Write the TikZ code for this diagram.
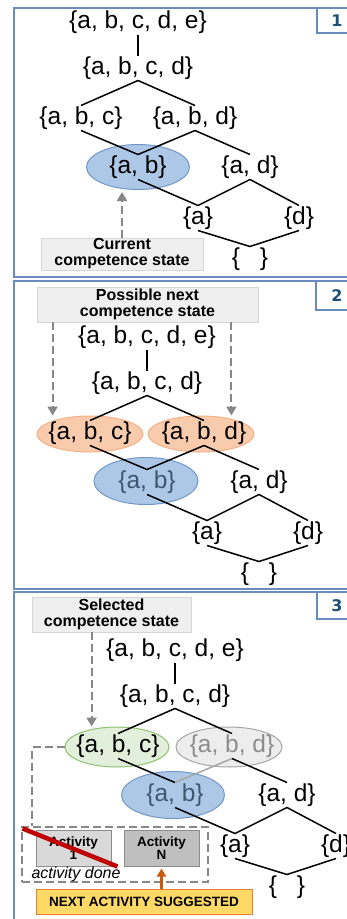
\documentclass[tikz,border=0pt]{standalone}
\usepackage{fontspec}
\setmainfont{Liberation Sans}
\newfontfamily\numfont{DejaVu Sans}
\usetikzlibrary{arrows.meta,shapes.geometric,calc}
\definecolor{frameblue}{HTML}{6A8BBE}
\definecolor{numblue}{HTML}{1F4E79}
\definecolor{ellblue}{HTML}{ADC8E6}
\definecolor{ellblueb}{HTML}{6F98C8}
\definecolor{abtxt}{HTML}{3F5670}
\definecolor{ellor}{HTML}{F8CBAD}
\definecolor{ellorb}{HTML}{F4B183}
\definecolor{ellgr}{HTML}{E2EFDA}
\definecolor{ellgrb}{HTML}{8DC26F}
\definecolor{ellgy}{HTML}{EDEDED}
\definecolor{ellgyb}{HTML}{A6A6A6}
\definecolor{gytxt}{HTML}{8C8C8C}
\definecolor{dashgy}{HTML}{878787}
\definecolor{labfill}{HTML}{EFEFEF}
\definecolor{labdraw}{HTML}{D6D6D6}
\definecolor{actonefill}{HTML}{D9D9D9}
\definecolor{actnfill}{HTML}{BFBFBF}
\definecolor{actdraw}{HTML}{8C8C8C}
\definecolor{strikered}{HTML}{C00000}
\definecolor{nextfill}{HTML}{FFD966}
\definecolor{nextdraw}{HTML}{ED7D31}
\definecolor{orarrow}{HTML}{C55A11}
\tikzset{
  setnode/.style={inner sep=0pt, outer sep=1.5pt, text height=17pt, text depth=5pt,
    font=\fontsize{24.5}{28}\selectfont},
  latline/.style={line width=1.5pt, draw=black},
  ell/.style={ellipse, inner sep=0pt, line width=1pt},
  blueell/.style={ell, fill=ellblue, draw=ellblueb, minimum width=104pt, minimum height=46pt},
  frame/.style={draw=frameblue, line width=1.3pt},
  numtxt/.style={text=numblue, font=\numfont\bfseries\fontsize{16}{16}\selectfont, inner sep=0pt},
  labbox/.style={draw=labdraw, fill=labfill, line width=0.8pt,
    font=\fontsize{16}{16}\selectfont\bfseries, align=center, inner sep=0pt},
  dasharrow/.style={draw=dashgy, line width=2pt, dash pattern=on 8pt off 4pt,
    -{Triangle[width=10pt,length=9pt,fill=dashgy]}},
  dashline/.style={draw=dashgy, line width=1.6pt, dash pattern=on 8pt off 4pt},
  actbox/.style={draw=actdraw, line width=1pt, minimum width=75pt, minimum height=36pt,
    inner sep=0pt, align=center, font=\fontsize{13.5}{13}\selectfont\bfseries},
  abstyle/.style={}, abdstyle/.style={}, abdab/.style={},
}
\newcommand\mylattice{%
  \node[setnode] (e) at (138,22) {\{a, b, c, d, e\}};
  \node[setnode] (d) at (138,68) {\{a, b, c, d\}};
  \node[setnode] (abc) at (81,118) {\{a, b, c\}};
  \node[setnode,abdstyle] (abd) at (195,118) {\{a, b, d\}};
  \node[setnode,abstyle] (ab) at (138,167) {\{a, b\}};
  \node[setnode] (ad) at (250,167) {\{a, d\}};
  \node[setnode] (a) at (198,218) {\{a\}};
  \node[setnode] (dd) at (299,218) {\{d\}};
  \node[setnode] (emp) at (250,259) {\{\hspace{20pt}\}};
  \draw[latline] (e.south) -- (d.north);
  \draw[latline] (abc.north) -- (d.south) -- (abd.north);
  \draw[latline] (abc.south) -- (ab.north);
  \draw[latline,abdab] (ab.north) -- (abd.south);
  \draw[latline] (abd.south) -- (ad.north);
  \draw[latline] (ab.south) -- (a.north) -- (ad.south) -- (dd.north);
  \draw[latline] (a.south) -- (emp.north) -- (dd.south);
}
\begin{document}
\begin{tikzpicture}[x=1pt,y=-1pt]
\useasboundingbox (0,0) rectangle (347,919);
\clip (0,0) rectangle (347,919);
\fill[white] (0,0) rectangle (347,919);

% ---------- frames ----------
\draw[frame] (14,8) rectangle (365,277);
\draw[frame] (317,8) rectangle (365,33);
\node[numtxt] (n1) at (337,21) {1};
\draw[frame] (14,281) rectangle (365,589);
\draw[frame] (316,281) rectangle (365,310);
\node[numtxt] (n2) at (337,296) {2};
\draw[frame] (14,592) rectangle (365,935);
\draw[frame] (317,592) rectangle (365,619);
\node[numtxt] (n3) at (337,606) {3};

% ---------- panel 1 ----------
\begin{scope}[name prefix=p1-]
  \node[blueell, minimum width=103pt, minimum height=45pt] (abE) at (138,167) {};
  \mylattice
\end{scope}
\node[labbox, minimum width=162pt, minimum height=32pt] (curbox) at (122,254)
  {Current\\competence state};
\draw[dasharrow, shorten >=2pt] (curbox.north) -- (curbox.north |- p1-abE.south);

% ---------- panel 2 ----------
\begin{scope}[shift={(9,315)}, name prefix=p2-, abstyle/.style={text=abtxt}]
  \node[ell, fill=ellor, draw=ellorb, minimum width=106pt, minimum height=36pt] (abcE) at (81,119) {};
  \node[ell, fill=ellor, draw=ellorb, minimum width=106pt, minimum height=36pt] (abdE) at (192,119) {};
  \node[blueell, minimum width=104pt, minimum height=47pt] (abE) at (137,166) {};
  \mylattice
\end{scope}
\node[labbox, minimum width=221pt, minimum height=35pt] (nextbox) at (147.5,304.5)
  {Possible next\\competence state};
\coordinate (arL) at ($(nextbox.south west)+(16,0)$);
\coordinate (arR) at ($(nextbox.south east)+(-27,0)$);
\draw[dasharrow] (arL) -- (arL |- p2-abcE.north);
\draw[dasharrow] (arR) -- (arR |- p2-abdE.north);

% ---------- panel 3 ----------
\begin{scope}[shift={(37,628)}, name prefix=p3-, abstyle/.style={text=abtxt},
  abdstyle/.style={text=gytxt}, abdab/.style={draw=ellgyb}]
  \node[ell, fill=ellgr, draw=ellgrb, minimum width=104pt, minimum height=40pt] (abcE) at (80,119) {};
  \node[ell, fill=ellgy, draw=ellgyb, minimum width=106pt, minimum height=40pt] (abdE) at (192,119) {};
  \node[blueell, minimum width=103pt, minimum height=47pt] (abE) at (136,167) {};
  \mylattice
\end{scope}
\node[labbox, minimum width=159pt, minimum height=35pt] (selbox) at (111.5,614.5)
  {Selected\\competence state};
\coordinate (arS) at ($(selbox.south west)+(60,0)$);
\draw[dasharrow] (arS) -- (arS |- p3-abcE.north);

\node[draw=dashgy, line width=1.6pt, dash pattern=on 8pt off 4pt,
  minimum width=186pt, minimum height=55pt, inner sep=0pt] (actgrp) at (115,854.5) {};
\coordinate (bend3) at (32,747);
\draw[dashline] (p3-abcE.west) -- (bend3) -- (bend3 |- actgrp.north);

\node[actbox, fill=actonefill] (act1) at (73.5,848) {Activity\\1};
\node[actbox, fill=actnfill] (actN) at (161.5,848) {Activity\\N};
\draw[strikered, line width=4.5pt] ($(act1.north west)+(-13,-1)$) -- ($(act1.south east)+(6,0)$);
\node[font=\fontsize{16}{16}\selectfont\itshape, inner sep=0pt] (done) at (76,874) {activity done};

\node[draw=nextdraw, fill=nextfill, line width=1pt, minimum width=216pt, minimum height=25pt,
  inner sep=0pt, font=\fontsize{13.5}{14}\selectfont\bfseries] (next) at (144,901.5)
  {NEXT ACTIVITY SUGGESTED};
\draw[orarrow, line width=2.2pt, -{Triangle[width=9pt,length=8pt]}, shorten >=2pt]
  (actN.south |- next.north) -- (actN.south);
\end{tikzpicture}
\end{document}
